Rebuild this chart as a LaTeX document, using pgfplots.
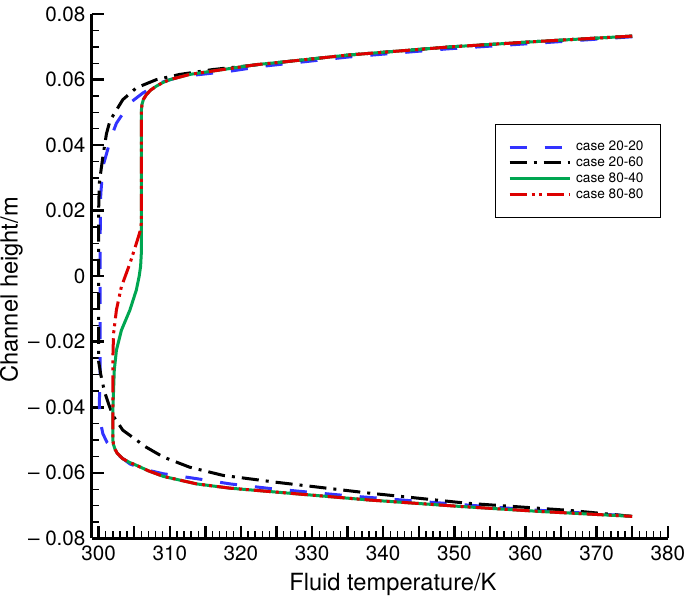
\documentclass[border=0pt]{standalone}
\usepackage{fontspec}
\setmainfont{TeX Gyre Heros}
\usepackage{pgfplots}
\pgfplotsset{compat=1.18}

\definecolor{cblue}{RGB}{51,51,255}
\definecolor{cgreen}{RGB}{0,166,81}
\definecolor{cred}{RGB}{221,0,0}

\begin{document}
\begin{tikzpicture}
\begin{axis}[
  scale only axis,
  width=287.5pt, height=261.5pt,
  xmin=299, xmax=380, ymin=-0.08, ymax=0.08,
  scaled y ticks=false,
  axis x line=bottom, axis y line=left,
  axis line style={-, line width=1.35pt},
  tick align=inside,
  major tick length=6pt, minor tick length=3.5pt,
  every major tick/.style={line width=1.25pt, black},
  every minor tick/.style={line width=0.65pt, black},
  xtick={300,305,...,380},
  xticklabels={300,,310,,320,,330,,340,,350,,360,,370,,380},
  minor x tick num=4,
  ytick={-0.08,-0.06,-0.04,-0.02,0,0.02,0.04,0.06,0.08},
  yticklabels={\textendash{} 0.08,\textendash{} 0.06,\textendash{} 0.04,\textendash{} 0.02,0,0.02,0.04,0.06,0.08},
  minor y tick num=3,
  tick label style={font=\fontsize{10.3}{12}\selectfont},
  xticklabel style={inner xsep=0pt},
  yticklabel style={xshift=0.5pt},
  xlabel={Fluid temperature/K},
  ylabel={Channel height/m},
  label style={font=\fontsize{11.8}{13}\selectfont},
  xlabel style={at={(axis description cs:0.523,-0.088)}, anchor=center},
  ylabel style={at={(axis description cs:-0.139,0.474)}, anchor=center, inner sep=0pt},
  legend style={font=\fontsize{6.8}{7.5}\selectfont,
    at={(axis description cs:0.701,0.79)}, anchor=north west,
    draw=black, line width=0.5pt, inner xsep=6pt, inner ysep=8pt,
    row sep=1.6pt, nodes={inner ysep=0pt, inner xsep=2.5pt}},
  legend cell align=left,
  legend image code/.code={\draw[#1] (0pt,0pt) -- (30pt,0pt);},
]
\addplot[cblue, line width=1.5pt, dash pattern=on 8.5pt off 9pt] coordinates {
(375,0.0731) (362,0.0712) (349,0.0694) (335,0.0669) (323.1,0.0641) (318.5,0.0626)
(311.4,0.0609) (308.6,0.0590) (306.2,0.0559) (304.4,0.0529) (302.5,0.0467)
(301.8,0.0427) (300.6,0.0335) (300.3,0.0250) (300.2,0.0100) (300.2,-0.0300)
(300.1,-0.0389) (300.2,-0.0440) (300.6,-0.0481) (301.2,-0.0508) (302.0,-0.0527)
(303.0,-0.0550) (304.4,-0.0573) (306.5,-0.0590) (309.1,-0.0603) (313.8,-0.0618)
(318.5,-0.0634) (324.5,-0.0649) (335,-0.0670) (344.3,-0.0686) (360,-0.0712) (375,-0.0732)};
\addlegendentry{case 20-20}
\addplot[black, line width=1.5pt, dash pattern=on 8.5pt off 3.5pt on 1.5pt off 3.5pt] coordinates {
(375,0.0733) (362,0.0717) (349.4,0.0700) (335,0.0675) (325.5,0.0653) (316.1,0.0631)
(311.4,0.0616) (308.1,0.0600) (305.3,0.0575) (303.4,0.0539) (301.6,0.0475)
(301.1,0.0435) (300.6,0.0366) (300.1,0.0285) (300.0,0.0200) (300.0,-0.0260)
(300.3,-0.0300) (300.8,-0.0350) (301.4,-0.0390) (302.0,-0.0425) (303.4,-0.0470)
(306.7,-0.0522) (309.1,-0.0552) (312.8,-0.0583) (317.5,-0.0608) (325.0,-0.0629)
(338,-0.0662) (351.8,-0.0693) (366.3,-0.0715) (375,-0.0733)};
\addlegendentry{case 20-60}
\addplot[cgreen, line width=1.5pt] coordinates {
(375,0.0733) (362,0.0717) (349.4,0.0700) (335,0.0675) (325.5,0.0653) (322.2,0.0646)
(317.5,0.0631) (312.8,0.0616) (310,0.0600) (309,0.0591) (308.1,0.0580) (307.3,0.0568)
(306.7,0.0554) (306.3,0.0540) (306.1,0.0525) (306.0,0.0505) (306.0,0.0070)
(305.9,0.0030) (305.7,0.0000) (305.3,-0.0042) (304.4,-0.0103) (303.2,-0.0165)
(302.5,-0.0226) (302.2,-0.0287) (302.0,-0.0409) (302.0,-0.0500) (302.1,-0.0515)
(302.3,-0.0528) (302.6,-0.0540) (303.4,-0.0557) (304.3,-0.0568) (305.3,-0.0577)
(307,-0.0594) (309.1,-0.0611) (313.8,-0.0634) (318.5,-0.0647) (325.0,-0.0659)
(338,-0.0683) (351,-0.0703) (362,-0.0718) (375,-0.0733)};
\addlegendentry{case 80-40}
\addplot[cred, line width=1.5pt, dash pattern=on 8.5pt off 2.5pt on 1.5pt off 2pt on 1.5pt off 2.5pt] coordinates {
(375,0.0733) (362,0.0717) (349.4,0.0700) (335,0.0675) (325.5,0.0653) (322.2,0.0646)
(317.5,0.0631) (312.8,0.0616) (310,0.0600) (309,0.0591) (308.1,0.0580) (307.3,0.0568)
(306.7,0.0554) (306.3,0.0540) (306.1,0.0525) (306.0,0.0505) (306.0,0.0162)
(305.8,0.0135) (305.3,0.0100) (304.4,0.0039) (303.2,-0.0032) (302.5,-0.0103)
(302.1,-0.0175) (302.0,-0.0250) (302.0,-0.0500) (302.1,-0.0515)
(302.3,-0.0528) (302.6,-0.0540) (303.4,-0.0557) (304.3,-0.0568) (305.3,-0.0577)
(307,-0.0594) (309.1,-0.0611) (313.8,-0.0634) (318.5,-0.0647) (325.0,-0.0659)
(338,-0.0683) (351,-0.0703) (362,-0.0718) (375,-0.0733)};
\addlegendentry{case 80-80}
\end{axis}
\end{tikzpicture}
\end{document}
